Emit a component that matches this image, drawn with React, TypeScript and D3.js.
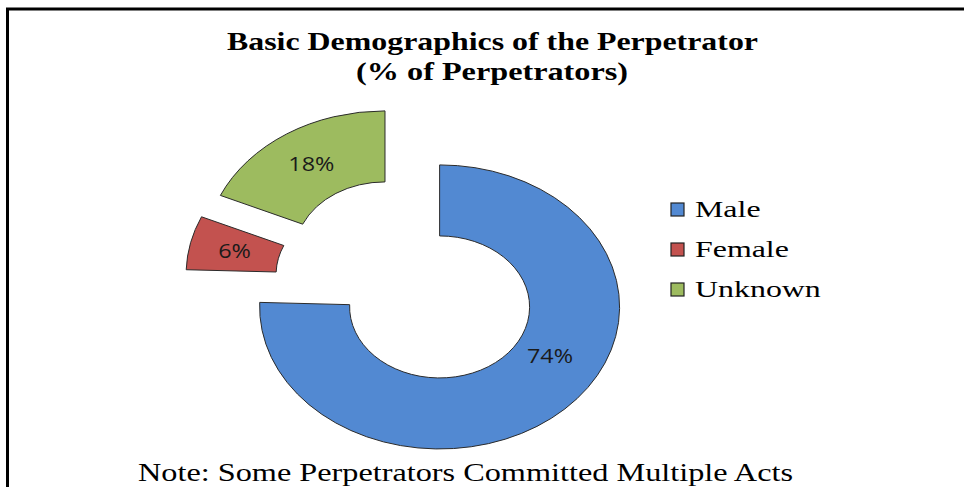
import React from "react";
import * as d3 from "d3";

const categories = ["Male", "Female", "Unknown"];
const values = [74, 6, 18];
const valueLabels = ["74%", "6%", "18%"];
const colors = ["#5289d2", "#c3524f", "#9dbb5f"];
const titleLines = ["Basic Demographics of the Perpetrator", "(% of Perpetrators)"];
const noteText = "Note: Some Perpetrators Committed Multiple Acts";

export default function App() {
  const W = 964;
  const H = 487;
  const cx = 409;
  const cy = 282;
  const ky = 0.789; // vertical squash of the doughnut
  const outerR = 180;
  const innerR = 90;
  const explode = 44;
  const labelFrac = [0.44, 0.5, 0.5];
  const labelR = [127, 135, 135];

  const pie = d3.pie<number>().sort(null).value((d) => d).startAngle(0).endAngle(2 * Math.PI);
  const arcs = pie(values);
  const arcGen = d3.arc<d3.PieArcDatum<number>>().innerRadius(innerR).outerRadius(outerR);

  const legendX = 671;
  const legendY0 = 217;
  const legendStep = 40;

  return (
    <svg
      width={W}
      height={H}
      viewBox={`0 0 ${W} ${H}`}
      style={{ position: "absolute", left: 0, top: 0, background: "#fff", overflow: "hidden" }}
    >
      <rect x={0} y={0} width={W} height={H} fill="#fff" />
      {/* frame */}
      <path d={`M7.5,${H + 2} L7.5,9 L${W + 2},9`} fill="none" stroke="#000" strokeWidth={3} />

      {/* title */}
      <g fontFamily="'Liberation Serif', 'Times New Roman', serif" fontWeight="bold" fontSize={26} fill="#000">
        <text x={492.5} y={49.5} textAnchor="middle" textLength={531} lengthAdjust="spacingAndGlyphs">
          {titleLines[0]}
        </text>
        <text x={492} y={80} textAnchor="middle" textLength={272} lengthAdjust="spacingAndGlyphs">
          {titleLines[1]}
        </text>
      </g>

      {/* doughnut */}
      <g transform={`translate(${cx},${cy}) scale(1,${ky})`}>
        {arcs.map((a, i) => {
          const mid = (a.startAngle + a.endAngle) / 2;
          const ox = explode * Math.sin(mid);
          const oy = -explode * Math.cos(mid);
          return (
            <path
              key={categories[i]}
              d={arcGen(a) || ""}
              transform={`translate(${ox},${oy})`}
              fill={colors[i]}
              stroke="#2b2b2b"
              strokeWidth={1}
              vectorEffect="non-scaling-stroke"
            />
          );
        })}
      </g>

      {/* data labels */}
      <g fontFamily="'Open Sans', 'DejaVu Sans', sans-serif" fontSize={19.5} fill="#1a1a1a">
        {arcs.map((a, i) => {
          const mid = (a.startAngle + a.endAngle) / 2;
          const la = a.startAngle + (a.endAngle - a.startAngle) * labelFrac[i];
          const ox = explode * Math.sin(mid);
          const oy = -explode * Math.cos(mid);
          const lx = cx + ox + labelR[i] * Math.sin(la);
          const ly = cy + (oy - labelR[i] * Math.cos(la)) * ky;
          return (
            <text
              key={categories[i]}
              transform={`translate(${lx},${ly + 7}) scale(1.2,1)`}
              textAnchor="middle"
            >
              {valueLabels[i]}
            </text>
          );
        })}
      </g>

      {/* legend */}
      <g fontFamily="'Liberation Serif', 'Times New Roman', serif" fontSize={24} fill="#000">
        {categories.map((c, i) => {
          const by = legendY0 + i * legendStep;
          return (
            <g key={c}>
              <rect
                x={legendX}
                y={by - 14}
                width={13}
                height={13}
                fill={colors[i]}
                stroke="#222"
                strokeWidth={1.2}
              />
              <text transform={`translate(${legendX + 24},${by}) scale(1.33,1)`}>{c}</text>
            </g>
          );
        })}
      </g>

      {/* note */}
      <text
        x={465.5}
        y={481}
        textAnchor="middle"
        fontFamily="'Liberation Serif', 'Times New Roman', serif"
        fontSize={24.5}
        fill="#000"
        textLength={655}
        lengthAdjust="spacingAndGlyphs"
      >
        {noteText}
      </text>
    </svg>
  );
}
